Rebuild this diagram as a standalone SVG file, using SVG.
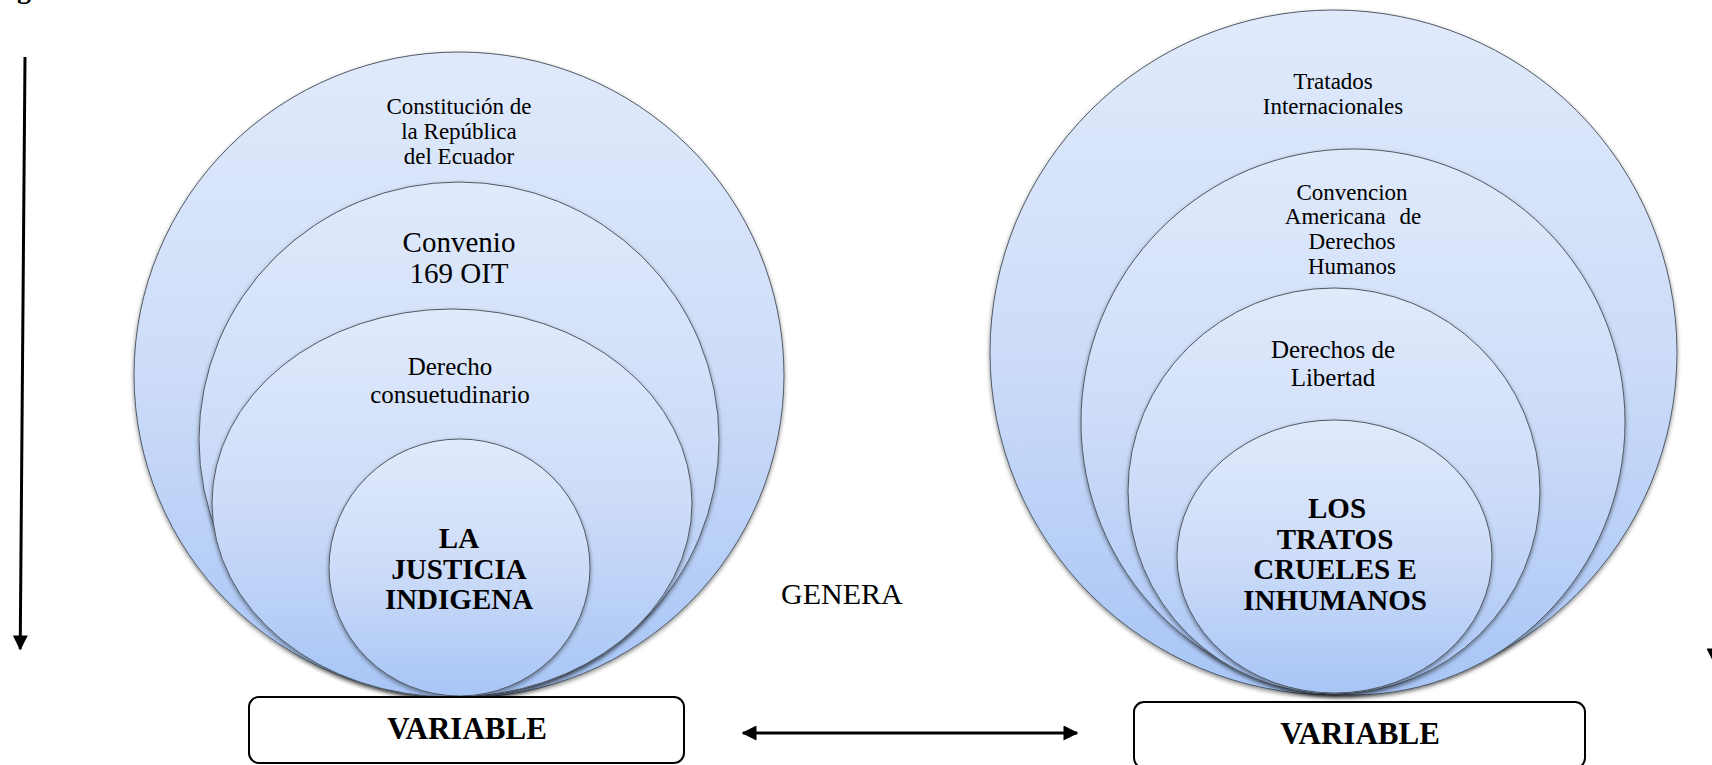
<svg xmlns="http://www.w3.org/2000/svg" width="1712" height="765" viewBox="0 0 1712 765">
<defs>
<linearGradient id="blue" x1="0" y1="0" x2="0" y2="1">
<stop offset="0" stop-color="#e0eafb"/>
<stop offset="0.5" stop-color="#cddcf8"/>
<stop offset="1" stop-color="#a7c5f6"/>
</linearGradient>
<filter id="sh" x="-10%" y="-10%" width="120%" height="125%">
<feDropShadow dx="0" dy="2" stdDeviation="2" flood-color="#000" flood-opacity="0.45"/>
</filter>
<marker id="ah" viewBox="0 0 10 10" refX="9" refY="5" markerWidth="5.5" markerHeight="5" orient="auto-start-reverse" markerUnits="strokeWidth">
<path d="M0,0 L10,5 L0,10 z" fill="#000"/>
</marker>
</defs>
<style>
.c{fill:url(#blue);stroke:#505a66;stroke-width:1;filter:url(#sh)}
.t{font-family:"Liberation Serif","Times New Roman","DejaVu Serif",serif;fill:#000;text-anchor:middle}
.b{font-weight:bold}
.box{fill:#fff;stroke:#000;stroke-width:2}
.ln{stroke:#000;stroke-width:3;fill:none}
</style>
<text class="t b" x="24" y="-2" font-size="28">g</text>
<g id="connectors">
<line class="ln" x1="25" y1="57" x2="20.2" y2="649" marker-end="url(#ah)"/>
<line class="ln" x1="1714" y1="60" x2="1714" y2="662" marker-end="url(#ah)"/>
<line class="ln" x1="743" y1="733" x2="1077" y2="733" marker-start="url(#ah)" marker-end="url(#ah)"/>
</g>
<g id="left-c1"><ellipse class="c" cx="459" cy="375" rx="325" ry="323"/>
<text class="t" font-size="23"><tspan x="459" y="114">Constitución de</tspan><tspan x="459" y="139">la República</tspan><tspan x="459" y="164">del Ecuador</tspan></text></g>
<g id="left-c2"><ellipse class="c" cx="459" cy="439.5" rx="260" ry="257.5"/>
<text class="t" font-size="29"><tspan x="459" y="252">Convenio</tspan><tspan x="459" y="283">169 OIT</tspan></text></g>
<g id="left-c3"><ellipse class="c" cx="452" cy="503" rx="240" ry="194"/>
<text class="t" font-size="25"><tspan x="450" y="375">Derecho</tspan><tspan x="450" y="403">consuetudinario</tspan></text></g>
<g id="left-c4"><ellipse class="c" cx="459.5" cy="567.5" rx="130.5" ry="128.5"/>
<text class="t b" font-size="29"><tspan x="459" y="548">LA</tspan><tspan x="459" y="579">JUSTICIA</tspan><tspan x="459" y="609">INDIGENA</tspan></text></g>
<g id="left-variable"><rect class="box" x="249" y="697" width="435" height="66" rx="10"/>
<text class="t b" x="467" y="739" font-size="31">VARIABLE</text></g>
<g id="genera"><text class="t" x="781" y="604" font-size="30" style="text-anchor:start">GENERA</text></g>
<g id="right-c1"><ellipse class="c" cx="1333.5" cy="352.5" rx="343.5" ry="342.5"/>
<text class="t" font-size="23"><tspan x="1333" y="89">Tratados</tspan><tspan x="1333" y="114">Internacionales</tspan></text></g>
<g id="right-c2"><ellipse class="c" cx="1353" cy="422" rx="272" ry="273"/>
<text class="t" font-size="23"><tspan x="1352" y="200">Convencion</tspan><tspan x="1353" y="224" word-spacing="8">Americana de</tspan><tspan x="1352" y="249">Derechos</tspan><tspan x="1352" y="274">Humanos</tspan></text></g>
<g id="right-c3"><ellipse class="c" cx="1334" cy="491" rx="206" ry="203"/>
<text class="t" font-size="25"><tspan x="1333" y="358">Derechos de</tspan><tspan x="1333" y="386">Libertad</tspan></text></g>
<g id="right-c4"><ellipse class="c" cx="1334.5" cy="556.5" rx="157.5" ry="136.5"/>
<text class="t b" font-size="29"><tspan x="1337" y="518">LOS</tspan><tspan x="1335" y="549">TRATOS</tspan><tspan x="1335" y="579">CRUELES E</tspan><tspan x="1335" y="610">INHUMANOS</tspan></text></g>
<g id="right-variable"><rect class="box" x="1134" y="702" width="451" height="66" rx="10"/>
<text class="t b" x="1360" y="744" font-size="31">VARIABLE</text></g>
</svg>
